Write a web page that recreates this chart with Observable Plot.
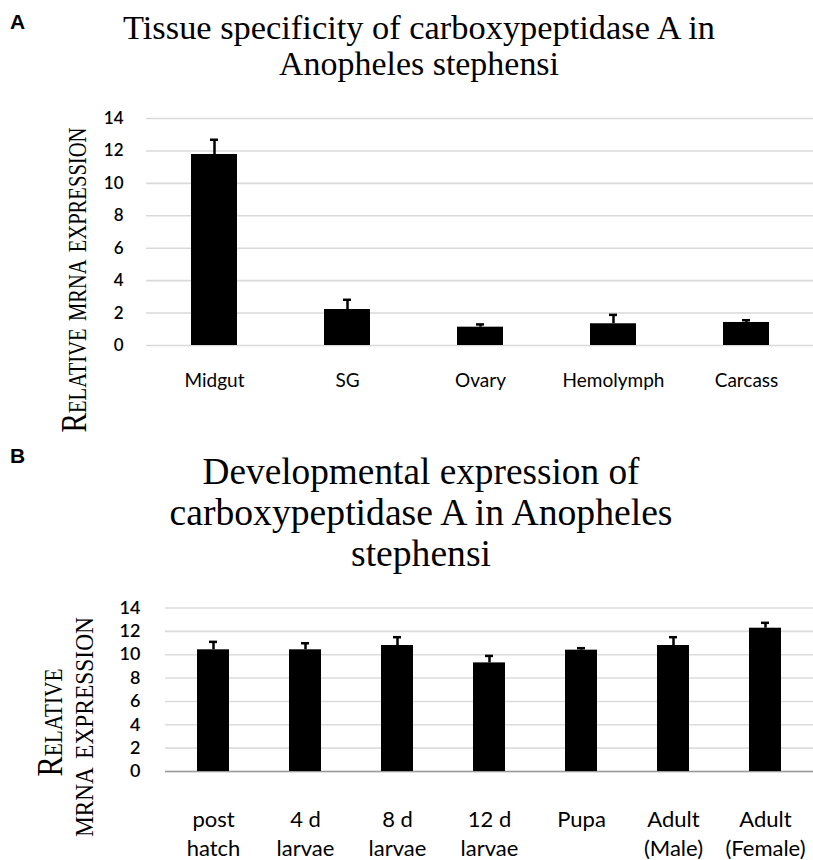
<!DOCTYPE html>
<html><head><meta charset="utf-8">
<script src="https://cdn.jsdelivr.net/npm/d3@7"></script>
<script src="https://cdn.jsdelivr.net/npm/@observablehq/plot@0.6"></script>
<style>
html,body{margin:0;padding:0;background:#fff;}
#fig{position:relative;width:813px;height:860px;overflow:hidden;background:#fff;}
#fig > svg, #fig > figure{position:absolute;left:0;margin:0;}
</style></head><body><div id="fig"></div>
<script>
// ---- data ----
const tissues = ["Midgut", "SG", "Ovary", "Hemolymph", "Carcass"];
const tissueMean = [11.78, 2.22, 1.13, 1.34, 1.42];
const tissueErr = [0.91, 0.60, 0.17, 0.55, 0.14];

const stages = ["post hatch", "4 d larvae", "8 d larvae", "12 d larvae", "Pupa", "Adult (Male)", "Adult (Female)"];
const stageLabels = ["post\nhatch", "4 d\nlarvae", "8 d\nlarvae", "12 d\nlarvae", "Pupa", "Adult\n(Male)", "Adult\n(Female)"];
const stageMean = [10.42, 10.42, 10.79, 9.30, 10.39, 10.79, 12.27];
const stageErr = [0.68, 0.56, 0.71, 0.60, 0.17, 0.71, 0.46];

const yTicks = [0, 2, 4, 6, 8, 10, 12, 14];
const titleA = ["Tissue specificity of carboxypeptidase A in", "Anopheles stephensi"];
const titleB = ["Developmental expression of", "carboxypeptidase A in Anopheles", "stephensi"];
const yTitleA = ["Relative ", "m", "RNA", " expression"];
const yTitleB1 = ["Relative"];
const yTitleB2 = ["m", "RNA", " expression"];

// ---- tables ----
const dataA = tissues.map((t, i) => ({tissue: t, mean: tissueMean[i], hi: tissueMean[i] + tissueErr[i]}));
const dataB = stages.map((s, i) => ({stage: s, mean: stageMean[i], hi: stageMean[i] + stageErr[i]}));

const fig = document.getElementById("fig");
const baseStyle = {fontFamily: "Lato, 'Open Sans', sans-serif", color: "#000", background: "transparent", overflow: "visible"};

const plotA = Plot.plot({
  width: 813, height: 410,
  marginTop: 118, marginBottom: 65, marginLeft: 146, marginRight: 0,
  style: baseStyle,
  x: {domain: tissues, paddingInner: 0.655, paddingOuter: 0.3275},
  y: {domain: [0, 14]},
  marks: [
    Plot.gridY(yTicks, {stroke: "#d9d9d9", strokeOpacity: 1, strokeWidth: 1.6}),
    Plot.axisY(yTicks, {tickSize: 0, tickPadding: 23, fontSize: 17, fontWeight: 600, label: null}),
    Plot.axisX({tickSize: 0, tickPadding: 27.5, fontSize: 19, label: null}),
    Plot.ruleX(dataA, {x: "tissue", y1: "mean", y2: "hi", stroke: "#000", strokeWidth: 2.5}),
    Plot.tickY(dataA, {x: "tissue", y: "hi", stroke: "#000", strokeWidth: 2.5, insetLeft: 19, insetRight: 19}),
    Plot.barY(dataA, {x: "tissue", y: "mean", fill: "#000"})
  ]
});
plotA.style.top = "0px";
fig.appendChild(plotA);

const plotB = Plot.plot({
  width: 813, height: 430,
  marginTop: 177.5, marginBottom: 89, marginLeft: 165, marginRight: 0,
  style: baseStyle,
  x: {domain: stages, paddingInner: 0.65, paddingOuter: 0.325},
  y: {domain: [0, 14]},
  marks: [
    Plot.gridY(yTicks, {stroke: "#dcdcdc", strokeOpacity: 1, strokeWidth: 1.6}),
    Plot.ruleY([0], {stroke: "#9a9a9a", strokeWidth: 1.6}),
    Plot.axisY(yTicks, {tickSize: 0, tickPadding: 25, fontSize: 18, fontWeight: 600, label: null}),
    Plot.axisX({tickSize: 0, tickPadding: 34.4, fontSize: 22, lineHeight: 1.32, label: null,
      tickFormat: d => stageLabels[stages.indexOf(d)]}),
    Plot.ruleX(dataB, {x: "stage", y1: "mean", y2: "hi", stroke: "#000", strokeWidth: 2.5}),
    Plot.tickY(dataB, {x: "stage", y: "hi", stroke: "#000", strokeWidth: 2.5, insetLeft: 12, insetRight: 12}),
    Plot.barY(dataB, {x: "stage", y: "mean", fill: "#000"})
  ]
});
plotB.style.top = "430px";
fig.appendChild(plotB);

// ---- titles and axis titles (overlay) ----
const svg = d3.select(fig).append("svg")
  .attr("width", 813).attr("height", 860).style("top", "0px").style("pointer-events", "none");
const serif = "'Liberation Serif', 'DejaVu Serif', serif";

svg.append("text").attr("x", 10).attr("y", 29).text("A")
  .attr("font-family", "'Liberation Sans', Arial, sans-serif").attr("font-weight", 700).attr("font-size", 21);
svg.append("text").attr("x", 10).attr("y", 463).text("B")
  .attr("font-family", "'Liberation Sans', Arial, sans-serif").attr("font-weight", 700).attr("font-size", 21);

const tA = [{y: 39, len: 592}, {y: 75, len: 280}];
titleA.forEach((s, i) => svg.append("text").text(s)
  .attr("x", 419).attr("y", tA[i].y).attr("text-anchor", "middle")
  .attr("font-family", serif).attr("font-size", 33)
  .attr("textLength", tA[i].len).attr("lengthAdjust", "spacingAndGlyphs"));

const tB = [{y: 484, len: 437}, {y: 525, len: 503}, {y: 566, len: 140}];
titleB.forEach((s, i) => svg.append("text").text(s)
  .attr("x", 421).attr("y", tB[i].y).attr("text-anchor", "middle")
  .attr("font-family", serif).attr("font-size", 37)
  .attr("textLength", tB[i].len).attr("lengthAdjust", "spacingAndGlyphs"));

function yTitle(parts, x, y, len) {
  const t = svg.append("text")
    .attr("transform", `translate(${x},${y}) rotate(-90) scale(1,1.45)`)
    .attr("text-anchor", "middle")
    .attr("font-family", serif).attr("font-size", 25)
    .style("font-variant", "small-caps")
    .attr("textLength", len).attr("lengthAdjust", "spacingAndGlyphs");
  parts.forEach(p => {
    const ts = t.append("tspan").text(p);
    if (p === "RNA") ts.attr("font-size", 17.5).style("font-variant", "normal");
  });
}
yTitle(yTitleA, 86, 280, 305);
yTitle(yTitleB1, 62, 722.5, 108);
yTitle(yTitleB2, 93, 727, 220);
</script>
</body></html>
